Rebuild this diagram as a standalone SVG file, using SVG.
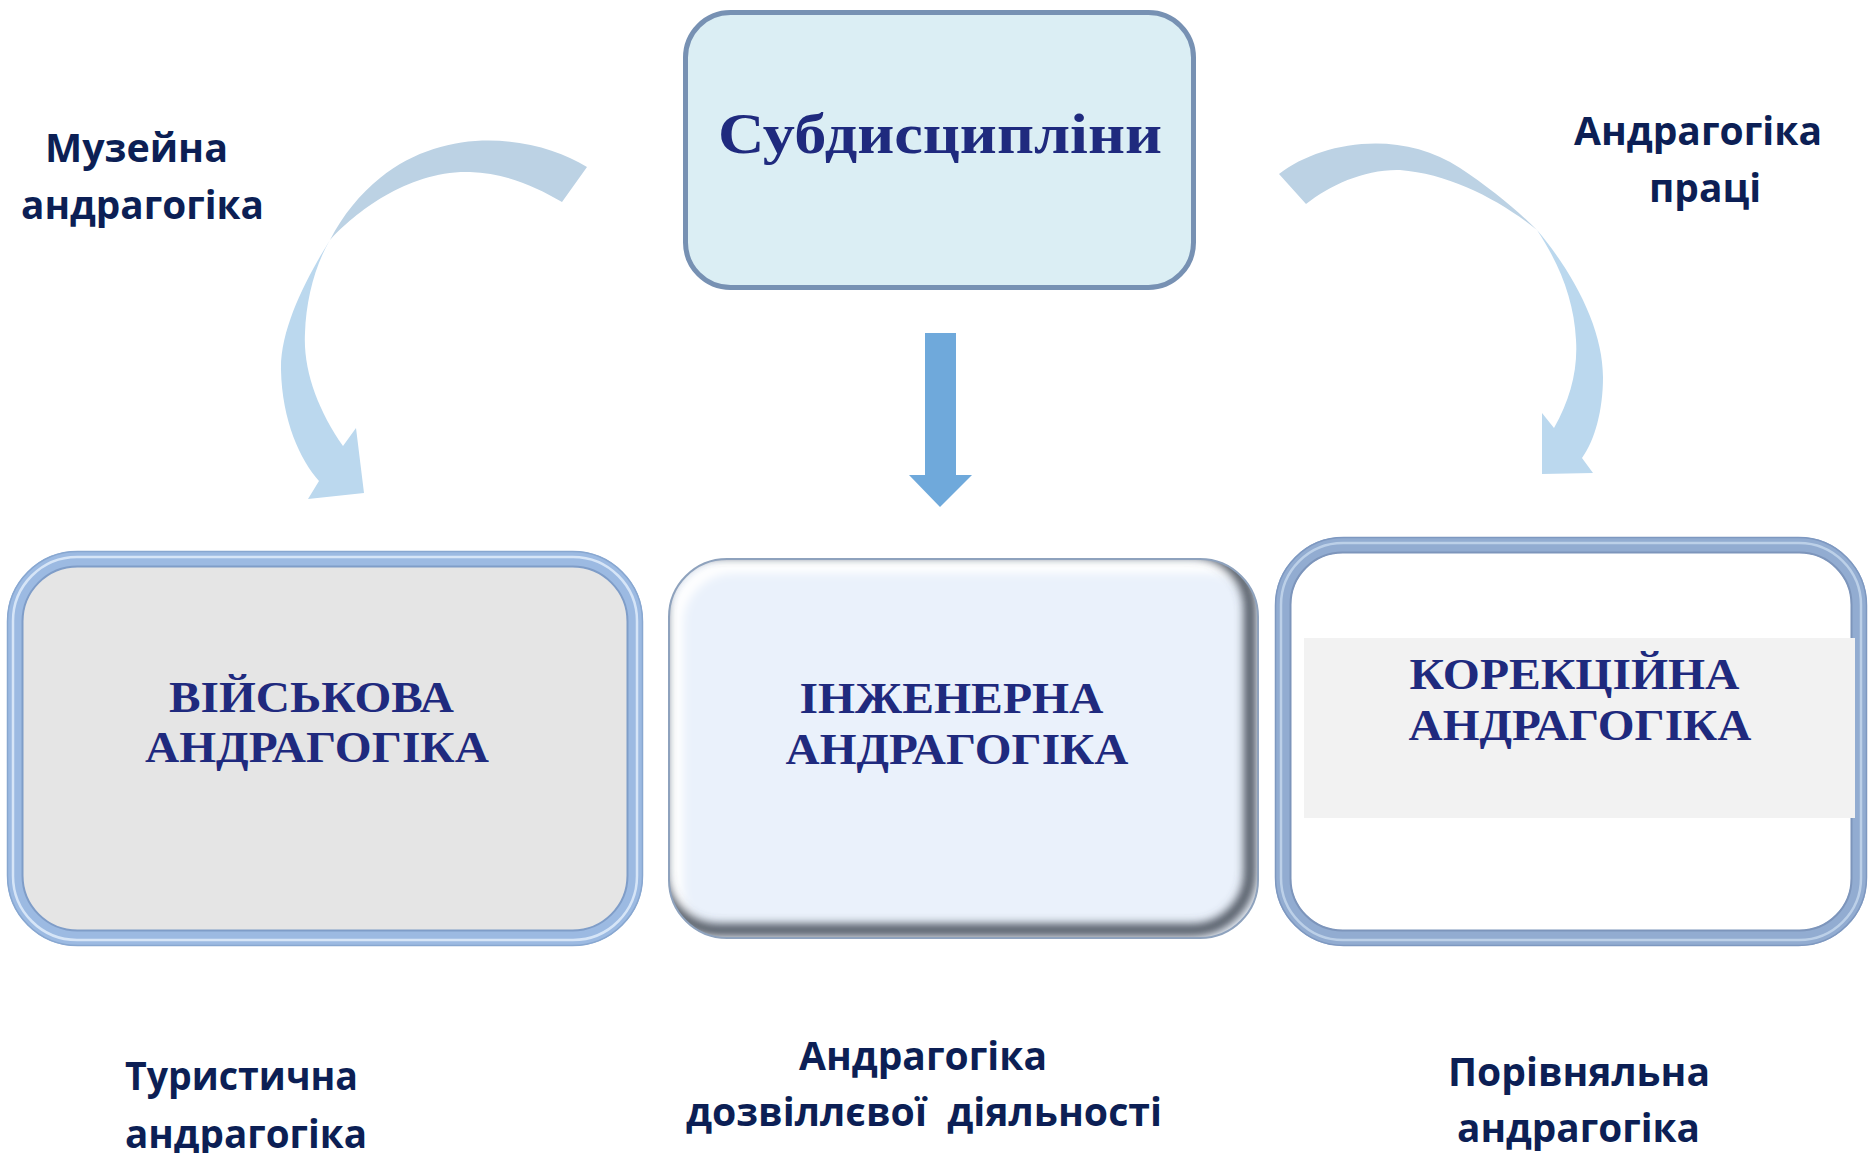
<svg xmlns="http://www.w3.org/2000/svg" width="1870" height="1153" viewBox="0 0 1870 1153">
  <style>
    .title { font-family: "Liberation Serif", "Times New Roman", serif; font-weight: bold; fill: #1f2a7e; }
    .label { font-family: "Open Sans", "Noto Sans", sans-serif; font-weight: bold; fill: #0c1f55; font-size: 40px; }
    .back { fill: #bcd2e4; }
    .front { fill: #bbd8ee; }
  </style>
  <defs>
    <filter id="blur" x="-20%" y="-20%" width="140%" height="140%">
      <feGaussianBlur stdDeviation="5"/>
    </filter>
    <clipPath id="midClip">
      <rect x="669" y="559" width="589" height="379" rx="58"/>
    </clipPath>
  </defs>
  <rect width="1870" height="1153" fill="#ffffff"/>

  <g id="connectors">
    <g id="arrow-left">
      <path class="back" d="M587,167 C540,138 450,122 380,178 C360,194 343,215 330,240 C355,212 410,170 470,172 C505,173 535,186 562,202 Z"/>
      <path class="front" d="M330,240 C305,280 280,330 281,370 C282,420 300,460 319,481 L308,499 L364,493 L356,428 L343,446 C318,410 303,370 305,333 C306,300 315,265 330,240 Z"/>
    </g>
    <g id="arrow-right">
      <path class="back" d="M1279,174 C1320,142 1400,128 1460,168 C1490,188 1515,208 1537,230 C1500,200 1450,174 1400,170 C1365,169 1330,185 1306,204 Z"/>
      <path class="front" d="M1537,230 C1575,275 1603,330 1603,377 C1603,410 1595,440 1582,458 L1593,473 L1542,474 L1542,413 L1554,428 C1570,400 1578,370 1576,340 C1574,300 1560,265 1537,230 Z"/>
    </g>
    <polygon id="arrow-down" points="925,333 956,333 956,475 972,475 940,507 909,475 925,475" fill="#6fa9db"/>
  </g>

  <g id="node-top">
    <rect x="685.5" y="12.5" width="508" height="275" rx="45" fill="#dbeef4" stroke="#7791b3" stroke-width="5"/>
    <text class="title" x="940" y="153" font-size="56" text-anchor="middle" textLength="444" lengthAdjust="spacingAndGlyphs">Субдисципліни</text>
  </g>

  <g id="node-left">
    <rect x="15" y="559" width="620" height="379" rx="62" fill="#e5e5e5" stroke="#9cbae2" stroke-width="16"/>
    <rect x="7.5" y="551.5" width="635" height="394" rx="70" fill="none" stroke="#88a7d0" stroke-width="1.5"/>
    <rect x="13" y="557" width="624" height="383" rx="64" fill="none" stroke="#d6e5f7" stroke-width="2.5"/>
    <rect x="22.5" y="566.5" width="605" height="364" rx="55" fill="none" stroke="#7f9dc8" stroke-width="2"/>
    <text class="title" font-size="44" text-anchor="middle">
      <tspan x="317" y="712" textLength="285" lengthAdjust="spacingAndGlyphs">ВІЙСЬКОВА</tspan>
      <tspan x="317" y="762" textLength="344" lengthAdjust="spacingAndGlyphs">АНДРАГОГІКА</tspan>
    </text>
  </g>

  <g id="node-middle">
    <rect x="669" y="559" width="589" height="379" rx="58" fill="#eaf1fb"/>
    <g clip-path="url(#midClip)">
      <rect x="669" y="559" width="589" height="379" rx="58" fill="none" stroke="#ffffff" stroke-width="14" filter="url(#blur)" transform="translate(7,7)"/>
      <rect x="669" y="559" width="589" height="379" rx="58" fill="none" stroke="#4d5560" stroke-width="12" filter="url(#blur)" transform="translate(-8,-8)"/>
    </g>
    <rect x="669" y="559" width="589" height="379" rx="58" fill="none" stroke="#8ea2bd" stroke-width="2"/>
    <text class="title" font-size="44" text-anchor="middle">
      <tspan x="957" y="713" textLength="304" lengthAdjust="spacingAndGlyphs">ІНЖЕНЕРНА</tspan>
      <tspan x="957" y="764" textLength="343" lengthAdjust="spacingAndGlyphs">АНДРАГОГІКА</tspan>
    </text>
  </g>

  <g id="node-right">
    <rect x="1283" y="545" width="576" height="393" rx="60" fill="#ffffff" stroke="#92acd1" stroke-width="16"/>
    <rect x="1275.5" y="537.5" width="591" height="408" rx="68" fill="none" stroke="#7e98c0" stroke-width="1.5"/>
    <rect x="1281" y="543" width="580" height="397" rx="62" fill="none" stroke="#bcd0e8" stroke-width="2.5"/>
    <rect x="1290.5" y="552.5" width="561" height="378" rx="52" fill="none" stroke="#7d95bb" stroke-width="2"/>
    <rect x="1304" y="638" width="551" height="180" fill="#f2f2f2"/>
    <text class="title" font-size="44" text-anchor="middle">
      <tspan x="1580" y="689" textLength="330" lengthAdjust="spacingAndGlyphs">КОРЕКЦІЙНА</tspan>
      <tspan x="1580" y="740" textLength="343" lengthAdjust="spacingAndGlyphs">АНДРАГОГІКА</tspan>
    </text>
  </g>

  <g id="label-museum">
    <text class="label"><tspan x="45" y="162" textLength="183" lengthAdjust="spacingAndGlyphs">Музейна</tspan><tspan x="21" y="219" textLength="243" lengthAdjust="spacingAndGlyphs">андрагогіка</tspan></text>
  </g>
  <g id="label-labour">
    <text class="label"><tspan x="1574" y="145" textLength="248" lengthAdjust="spacingAndGlyphs">Андрагогіка</tspan><tspan x="1649" y="202" textLength="112" lengthAdjust="spacingAndGlyphs">праці</tspan></text>
  </g>
  <g id="label-tourist">
    <text class="label"><tspan x="125" y="1090" textLength="233" lengthAdjust="spacingAndGlyphs">Туристична</tspan><tspan x="125" y="1148" textLength="242" lengthAdjust="spacingAndGlyphs">андрагогіка</tspan></text>
  </g>
  <g id="label-leisure">
    <text class="label" xml:space="preserve"><tspan x="799" y="1070" textLength="248" lengthAdjust="spacingAndGlyphs">Андрагогіка</tspan><tspan x="686" y="1126" textLength="476" lengthAdjust="spacingAndGlyphs">дозвіллєвої  діяльності</tspan></text>
  </g>
  <g id="label-comparative">
    <text class="label"><tspan x="1448" y="1086" textLength="262" lengthAdjust="spacingAndGlyphs">Порівняльна</tspan><tspan x="1457" y="1142" textLength="243" lengthAdjust="spacingAndGlyphs">андрагогіка</tspan></text>
  </g>
</svg>
